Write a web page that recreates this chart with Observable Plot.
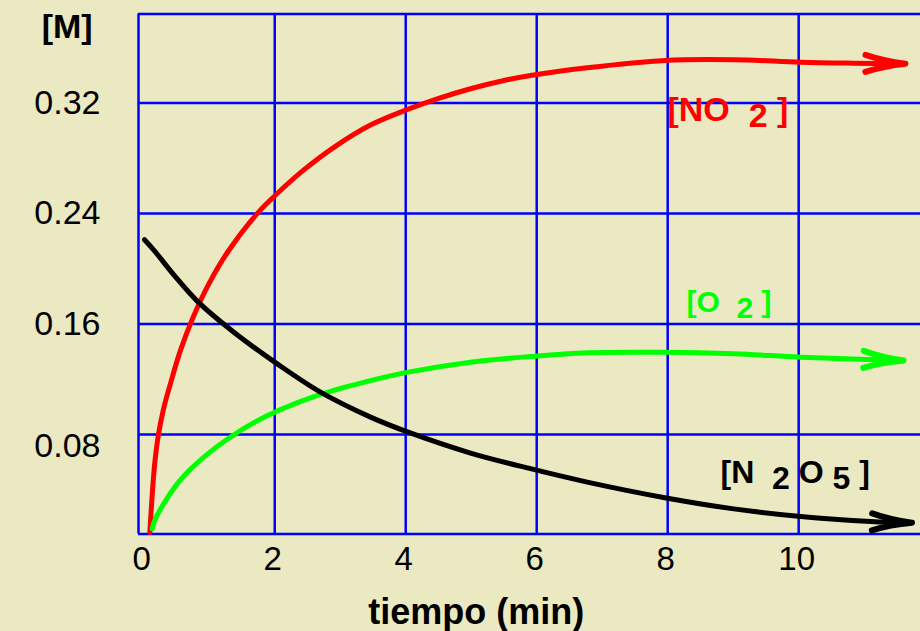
<!DOCTYPE html>
<html>
<head>
<meta charset="utf-8">
<script src="https://cdn.jsdelivr.net/npm/d3@7"></script>
<script src="https://cdn.jsdelivr.net/npm/@observablehq/plot@0.6"></script>
<style>
  html, body { margin: 0; padding: 0; background: #ebe9c1; }
  #chart { width: 920px; height: 631px; }
</style>
</head>
<body>
<div id="chart"></div>
<script>
// ---- data ----
const xTicks = [0, 2, 4, 6, 8, 10];
const yTicks = [0.08, 0.16, 0.24, 0.32];
const yTickLabels = ["0.08", "0.16", "0.24", "0.32"];
const xDomain = [-0.08, 11.86];
const yDomain = [0.0079, 0.3844];

const tNO2 = [0.093, 0.107, 0.135, 0.17, 0.225, 0.30, 0.409, 0.562, 0.756, 0.994, 1.295, 1.753, 2.063, 2.444, 2.954, 3.463, 4.038, 4.481, 4.99, 5.5, 5.905, 6.77, 7.956, 9.01, 10.03, 10.84, 11.63];
const cNO2 = [0.009, 0.020, 0.040, 0.060, 0.080, 0.098, 0.117, 0.141, 0.165, 0.189, 0.213, 0.241, 0.2555, 0.2715, 0.2895, 0.304, 0.3155, 0.323, 0.3303, 0.3363, 0.3399, 0.3455, 0.3508, 0.3513, 0.3495, 0.3488, 0.3484];

const tO2 = [0.13, 0.17, 0.307, 0.511, 0.664, 0.969, 1.275, 1.681, 2.063, 2.699, 3.463, 4.038, 4.989, 5.905, 6.771, 7.956, 9.01, 10.03, 11.05, 11.6];
const cO2 = [0.0117, 0.018, 0.030, 0.0442, 0.0525, 0.0655, 0.0765, 0.0885, 0.0975, 0.109, 0.119, 0.1251, 0.1323, 0.1364, 0.1391, 0.1395, 0.1384, 0.1359, 0.1343, 0.1335];

const tN2O5 = [0.012, 0.154, 0.46, 0.817, 1.376, 2.038, 2.699, 3.463, 4.038, 4.989, 5.905, 6.771, 7.956, 9.01, 10.03, 11.10, 11.73];
const cN2O5 = [0.221, 0.2135, 0.1955, 0.1765, 0.154, 0.1311, 0.1106, 0.0925, 0.0816, 0.0665, 0.0552, 0.0455, 0.0342, 0.0261, 0.0206, 0.017, 0.016];

const seriesNames = ["NO2", "O2", "N2O5"];
const seriesColors = ["#ff0000", "#00ff00", "#000000"];
// label text ("_" marks a lowered subscript character), anchor position in data units
const labelTexts = ["[NO  _2 ]", "[O  _2 ]", "[N  _2 O _5 ]"];
const labelT = [7.997, 8.287, 8.806];
const labelC = [0.3149, 0.1757, 0.0521];
const labelSizes = [34, 30, 32];
const yTitle = "[M]";
const xTitle = "tiempo (min)";

// ---- build tables ----
const toRows = (ts, cs, name) => ts.map((t, i) => ({t, c: cs[i], name}));
const rows = [
  ...toRows(tNO2, cNO2, "NO2"),
  ...toRows(tO2, cO2, "O2"),
  ...toRows(tN2O5, cN2O5, "N2O5")
];
const labels = labelTexts.map((text, i) => ({text, t: labelT[i], c: labelC[i], name: seriesNames[i], size: labelSizes[i]}));
const yLabelByValue = new Map(yTicks.map((v, i) => [v, yTickLabels[i]]));
const colorOf = new Map(seriesNames.map((n, i) => [n, seriesColors[i]]));

function arrowHead(color, context) {
  const ns = "http://www.w3.org/2000/svg";
  const doc = (context && context.document) || document;
  const m = doc.createElementNS(ns, "marker");
  m.setAttribute("viewBox", "-50 -14 56 28");
  m.setAttribute("markerUnits", "userSpaceOnUse");
  m.setAttribute("markerWidth", 56);
  m.setAttribute("markerHeight", 28);
  m.setAttribute("refX", 0);
  m.setAttribute("refY", 0);
  m.setAttribute("orient", "auto");
  const p = doc.createElementNS(ns, "path");
  p.setAttribute("d", "M-40,-8.5 Q-22,-2.5 0,0 Q-22,2.5 -40,8.5");
  p.setAttribute("fill", "none");
  p.setAttribute("stroke", color);
  p.setAttribute("stroke-width", 6);
  p.setAttribute("stroke-linecap", "round");
  p.setAttribute("stroke-linejoin", "round");
  m.appendChild(p);
  return m;
}

const FONT = "'Liberation Sans', Arial, Helvetica, sans-serif";
const axisYOpts = {tickSize: 0, tickPadding: 38, label: null, fontSize: 34, fill: "#000", tickFormat: d => yLabelByValue.get(d)};

const chart = Plot.plot({
  width: 920,
  height: 631,
  marginLeft: 138,
  marginRight: 0,
  marginTop: 13.5,
  marginBottom: 97.5,
  style: {background: "#ebe9c1", fontFamily: FONT, fontSize: "33px", color: "#000", overflow: "visible"},
  x: {domain: xDomain},
  y: {domain: yDomain},
  marks: [
    Plot.ruleX(xTicks.filter(d => d > 0), {stroke: "#0000ff", strokeWidth: 2.5}),
    Plot.ruleY(yTicks, {stroke: "#0000ff", strokeWidth: 2.5}),
    Plot.ruleY([yDomain[0], yDomain[1]], {stroke: "#0000ff", strokeWidth: 2.5}),
    Plot.ruleX([xDomain[0]], {stroke: "#0000ff", strokeWidth: 2.5}),
    Plot.axisX(xTicks, {tickSize: 0, tickPadding: 13, label: null, fontSize: 33, fill: "#000", dx: -2}),
    Plot.axisY(yTicks.filter(v => v > yTicks[0]), axisYOpts),
    Plot.axisY([yTicks[0]], {...axisYOpts, dy: 12}),
    Plot.line(rows, {
      x: "t", y: "c", z: "name",
      stroke: d => colorOf.get(d.name),
      strokeWidth: 5,
      curve: "catmull-rom",
      strokeLinecap: "round",
      markerEnd: arrowHead
    }),
    Plot.text(labels, {
      x: "t", y: "c", text: "text",
      fill: d => colorOf.get(d.name),
      fontSize: d => d.size,
      fontWeight: "bold",
      textAnchor: "start",
      lineAnchor: "middle"
    }),
    Plot.text([yTitle], {frameAnchor: "top-left", dx: -71.3, dy: 13.5, text: d => d, fontWeight: "bold", fontSize: 34, textAnchor: "middle", lineAnchor: "middle", fill: "#000"}),
    Plot.text([xTitle], {frameAnchor: "bottom", dx: -53.3, dy: 78, text: d => d, fontWeight: "bold", fontSize: 36, textAnchor: "middle", lineAnchor: "middle", fill: "#000"})
  ]
});

// subscripts: "_" lowers the following character
const SVGNS = "http://www.w3.org/2000/svg";
for (const el of chart.querySelectorAll("text")) {
  const s = el.textContent;
  if (!s.includes("_")) continue;
  el.textContent = "";
  el.setAttribute("xml:space", "preserve");
  el.style.whiteSpace = "pre";
  let shift = 0, buf = "";
  const flush = () => {
    if (!buf) return;
    const ts = document.createElementNS(SVGNS, "tspan");
    if (shift !== 0) { ts.setAttribute("dy", -shift); shift = 0; }
    ts.textContent = buf;
    el.appendChild(ts);
    buf = "";
  };
  for (let i = 0; i < s.length; i++) {
    if (s[i] === "_" && i + 1 < s.length) {
      flush();
      const ts = document.createElementNS(SVGNS, "tspan");
      ts.setAttribute("dy", 6 - shift);
      shift = 6;
      ts.textContent = s[i + 1];
      el.appendChild(ts);
      i++;
    } else {
      buf += s[i];
    }
  }
  flush();
}

document.getElementById("chart").appendChild(chart);
</script>
</body>
</html>
